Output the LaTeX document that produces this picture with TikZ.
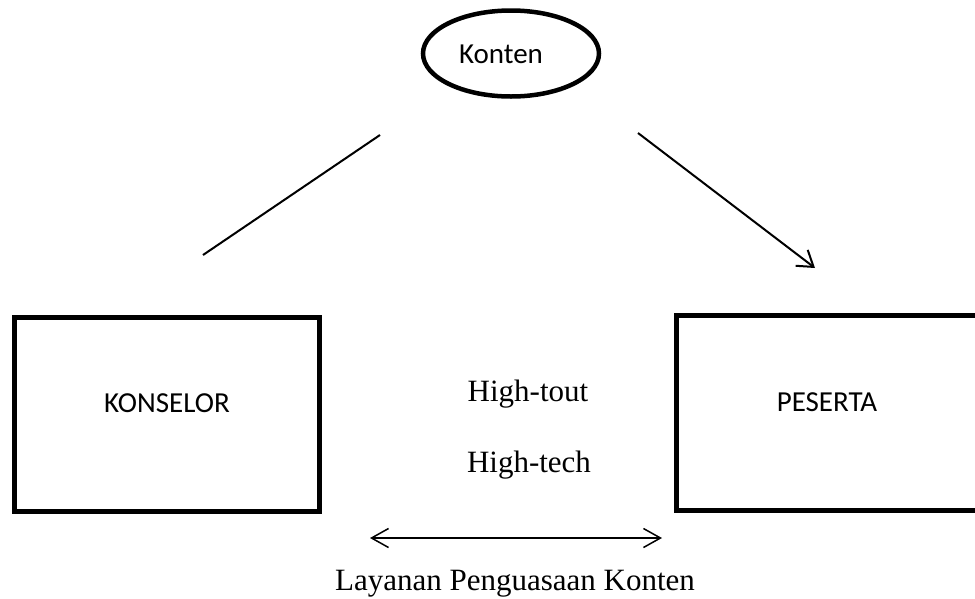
\documentclass[tikz,border=0pt]{standalone}
\usepackage{fontspec}
\setmainfont{Liberation Serif}
\newfontfamily\calfont{Carlito}
\usetikzlibrary{arrows.meta,shapes.geometric}
\begin{document}
\begin{tikzpicture}[x=1pt,y=-1pt,
  boxstyle/.style={draw, line width=5pt, inner sep=0pt},
  sanslabel/.style={font=\calfont\fontsize{29}{34}\selectfont, inner sep=0pt, anchor=base},
  seriflabel/.style={font=\fontsize{31}{36}\selectfont, inner sep=0pt, anchor=base},
  conn/.style={line width=2pt},
  tipstyle/.style={-{Straight Barb[length=15pt,width=20pt,line width=2pt]}},
  dtip/.style={{Straight Barb[length=17pt,width=19pt,line width=1.5pt]}-{Straight Barb[length=17pt,width=19pt,line width=1.5pt]}}
]
\useasboundingbox[fill=white] (0,0) rectangle (975,598);
% boxes
\node[boxstyle, minimum width=305pt, minimum height=194pt] (kons) at (167,414.5) {};
\node[boxstyle, minimum width=303pt, minimum height=194.5pt] (pes) at (827.5,412.75) {};
% box texts
\node[sanslabel] (konslbl) at (167,412) {KONSELOR};
\node[sanslabel] (peslbl) at (827,411) {PESERTA};
% ellipse
\node[draw, ellipse, line width=4.5pt, minimum width=176pt, minimum height=86pt, inner sep=0pt] (konten) at (511,53.5) {};
\node[sanslabel] (kontenlbl) at (501,63) {Konten};
% middle texts
\node[seriflabel] (tout) at (528,401) {High-tout};
\node[seriflabel] (tech) at (529,472) {High-tech};
\node[seriflabel] (layanan) at (515,590) {Layanan Penguasaan Konten};
% connectors
\coordinate (l1a) at (380,135);
\coordinate (l1b) at (203,255);
\coordinate (a1a) at (638,133);
\coordinate (a1b) at (815,268);
\coordinate (d1) at (370,538);
\coordinate (d2) at (662,538);
\draw[conn] (l1a) -- (l1b);
\draw[conn, tipstyle] (a1a) -- (a1b);
\draw[line width=1.5pt, dtip] (d1) -- (d2);
\end{tikzpicture}
\end{document}
